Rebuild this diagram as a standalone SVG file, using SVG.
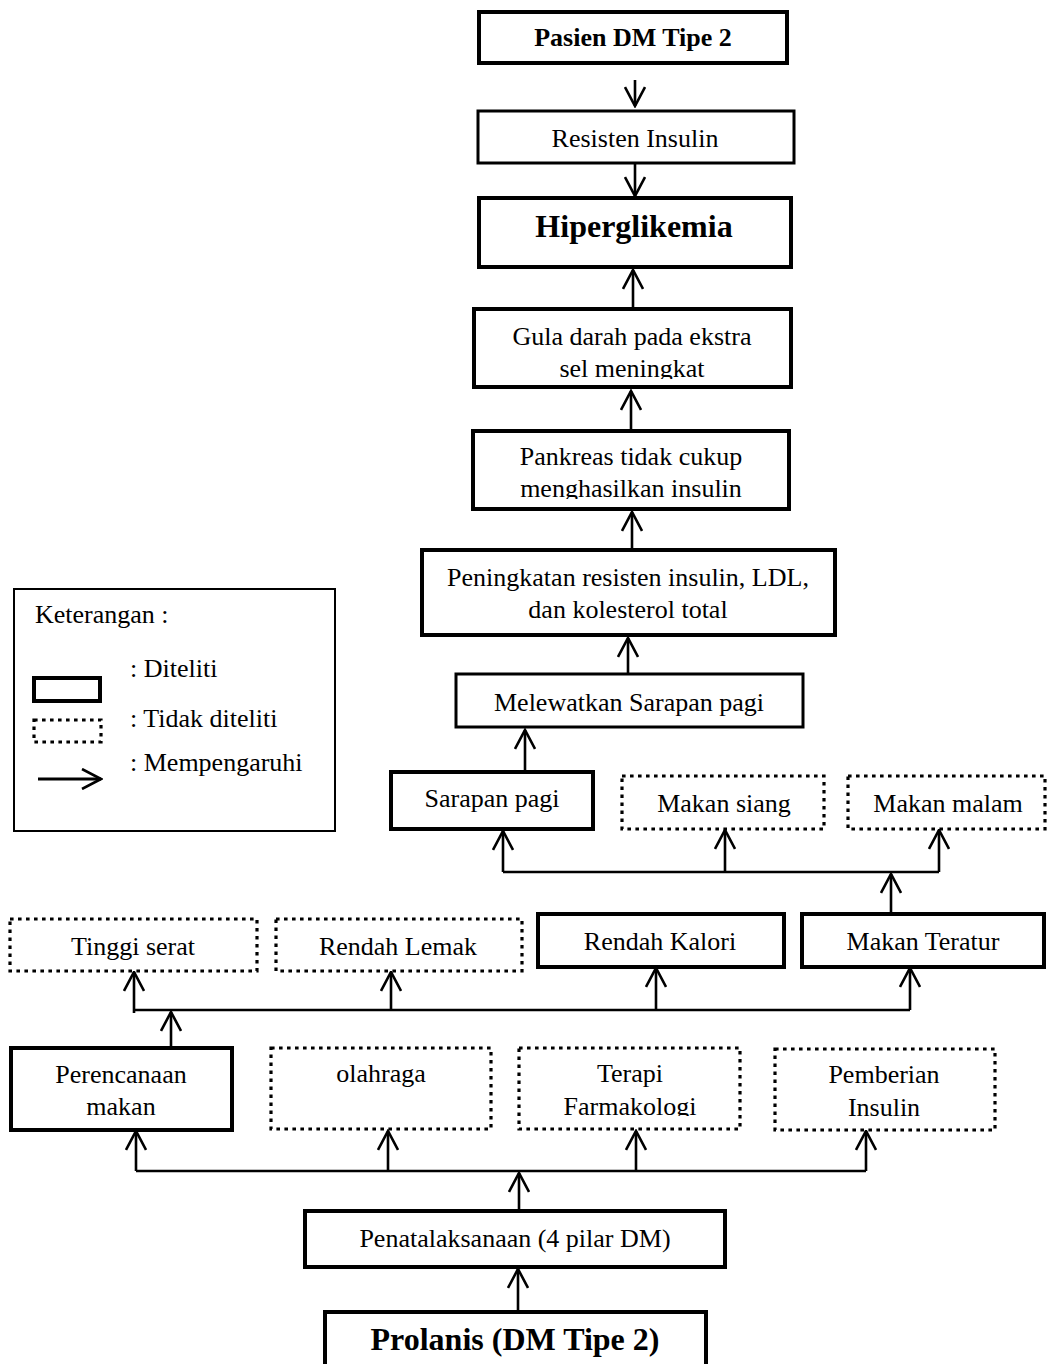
<svg xmlns="http://www.w3.org/2000/svg" width="1047" height="1364" viewBox="0 0 1047 1364">
<style>
text{font-family:"Liberation Serif","Times New Roman",serif;font-size:26px;fill:#000;text-anchor:middle}
.b{font-weight:bold}
.big{font-size:32px;font-weight:bold}
.l{text-anchor:start}
.s{fill:#fff;stroke:#000;stroke-width:4}
.s3{fill:#fff;stroke:#000;stroke-width:3}
.d{fill:#fff;stroke:#000;stroke-width:3.2;stroke-dasharray:3.6 4.4}
.c{fill:none;stroke:#000;stroke-width:2.6}
.a{fill:none;stroke:#000;stroke-width:2.6;marker-end:url(#arr)}
</style>
<defs>
<marker id="arr" viewBox="0 0 22 22" refX="20" refY="11" markerWidth="22" markerHeight="22" markerUnits="userSpaceOnUse" orient="auto">
<path d="M1,1 L20,11 L1,21" fill="none" stroke="#000" stroke-width="2.6"/>
</marker>
<clipPath id="c4"><rect x="470" y="300" width="330" height="79"/></clipPath>
<clipPath id="c5"><rect x="470" y="420" width="330" height="79"/></clipPath>
<clipPath id="c11"><rect x="515" y="1040" width="230" height="76"/></clipPath>
</defs>
<rect width="1047" height="1364" fill="#fff"/>

<g id="connectors">
<line class="a" x1="635" y1="80" x2="635" y2="106"/>
<line class="a" x1="635" y1="164" x2="635" y2="196"/>
<line class="a" x1="633" y1="308" x2="633" y2="270"/>
<line class="a" x1="631" y1="430" x2="631" y2="391"/>
<line class="a" x1="632" y1="548" x2="632" y2="512"/>
<line class="a" x1="628" y1="673" x2="628" y2="638"/>
<line class="a" x1="525" y1="770" x2="525" y2="730"/>
<line class="c" x1="503" y1="872" x2="939" y2="872"/>
<line class="a" x1="503" y1="872" x2="503" y2="831"/>
<line class="a" x1="725" y1="872" x2="725" y2="830"/>
<line class="a" x1="939" y1="872" x2="939" y2="830"/>
<line class="a" x1="891" y1="913" x2="891" y2="874"/>
<line class="c" x1="134" y1="1010" x2="910" y2="1010"/>
<line class="a" x1="134" y1="1013" x2="134" y2="972"/>
<line class="a" x1="391" y1="1010" x2="391" y2="972"/>
<line class="a" x1="656" y1="1010" x2="656" y2="968"/>
<line class="a" x1="910" y1="1010" x2="910" y2="968"/>
<line class="a" x1="171" y1="1047" x2="171" y2="1012"/>
<line class="c" x1="136" y1="1171" x2="866" y2="1171"/>
<line class="a" x1="136" y1="1171" x2="136" y2="1131"/>
<line class="a" x1="388" y1="1171" x2="388" y2="1131"/>
<line class="a" x1="636" y1="1171" x2="636" y2="1131"/>
<line class="a" x1="866" y1="1171" x2="866" y2="1131"/>
<line class="a" x1="519" y1="1210" x2="519" y2="1173"/>
<line class="a" x1="518" y1="1311" x2="518" y2="1269"/>
</g>

<g id="pasien"><rect class="s" x="479" y="12" width="308" height="51"/><text class="b" x="633" y="46">Pasien DM Tipe 2</text></g>
<g id="resisten"><rect class="s3" x="478" y="111" width="316" height="52"/><text x="635" y="147">Resisten Insulin</text></g>
<g id="hiperglikemia"><rect class="s" x="479" y="198" width="312" height="69" stroke-width="5"/><text class="big" x="634" y="237">Hiperglikemia</text></g>
<g id="gula"><rect class="s" x="474" y="309" width="317" height="78"/><g clip-path="url(#c4)"><text x="632" y="345">Gula darah pada ekstra</text><text x="632" y="377">sel meningkat</text></g></g>
<g id="pankreas"><rect class="s" x="473" y="431" width="316" height="78"/><g clip-path="url(#c5)"><text x="631" y="465">Pankreas tidak cukup</text><text x="631" y="497">menghasilkan insulin</text></g></g>
<g id="peningkatan"><rect class="s" x="422" y="550" width="413" height="85"/><text x="628" y="586">Peningkatan resisten insulin, LDL,</text><text x="628" y="618">dan kolesterol total</text></g>
<g id="melewatkan"><rect class="s3" x="456" y="674" width="347" height="53"/><text x="629" y="711">Melewatkan Sarapan pagi</text></g>

<g id="sarapan"><rect class="s" x="391" y="772" width="202" height="57"/><text x="492" y="807">Sarapan pagi</text></g>
<g id="siang"><rect class="d" x="622" y="776" width="202" height="53"/><text x="724" y="812">Makan siang</text></g>
<g id="malam"><rect class="d" x="848" y="776" width="197" height="53"/><text x="948" y="812">Makan malam</text></g>

<g id="serat"><rect class="d" x="10" y="919" width="247" height="52"/><text x="133" y="955">Tinggi serat</text></g>
<g id="lemak"><rect class="d" x="276" y="919" width="246" height="52"/><text x="398" y="955">Rendah Lemak</text></g>
<g id="kalori"><rect class="s" x="538" y="914" width="246" height="53"/><text x="660" y="950">Rendah Kalori</text></g>
<g id="teratur"><rect class="s" x="802" y="914" width="242" height="53"/><text x="923" y="950">Makan Teratur</text></g>

<g id="perencanaan"><rect class="s" x="11" y="1048" width="221" height="82"/><text x="121" y="1083">Perencanaan</text><text x="121" y="1115">makan</text></g>
<g id="olahraga"><rect class="d" x="271" y="1048" width="220" height="81"/><text x="381" y="1082">olahraga</text></g>
<g id="terapi"><rect class="d" x="519" y="1048" width="221" height="81"/><g clip-path="url(#c11)"><text x="630" y="1082">Terapi</text><text x="630" y="1115">Farmakologi</text></g></g>
<g id="pemberian"><rect class="d" x="775" y="1049" width="220" height="81"/><text x="884" y="1083">Pemberian</text><text x="884" y="1116">Insulin</text></g>

<g id="penatalaksanaan"><rect class="s" x="305" y="1211" width="420" height="56" stroke-width="3.5"/><text x="515" y="1247">Penatalaksanaan (4 pilar DM)</text></g>
<g id="prolanis"><rect class="s" x="325" y="1312" width="381" height="60" stroke-width="4.5"/><text class="big" x="515" y="1350">Prolanis (DM Tipe 2)</text></g>

<g id="legend">
<rect x="14" y="589" width="321" height="242" fill="#fff" stroke="#000" stroke-width="2"/>
<text class="l" x="35" y="623">Keterangan :</text>
<rect x="34" y="678" width="66" height="23" fill="none" stroke="#000" stroke-width="4"/>
<text class="l" x="130" y="677">: Diteliti</text>
<rect x="34" y="720" width="67" height="22" fill="none" stroke="#000" stroke-width="3.2" stroke-dasharray="3.6 4.4"/>
<text class="l" x="130" y="727">: Tidak diteliti</text>
<line x1="38" y1="779" x2="101" y2="779" stroke="#000" stroke-width="3" marker-end="url(#arr)"/>
<text class="l" x="130" y="771">: Mempengaruhi</text>
</g>
</svg>
